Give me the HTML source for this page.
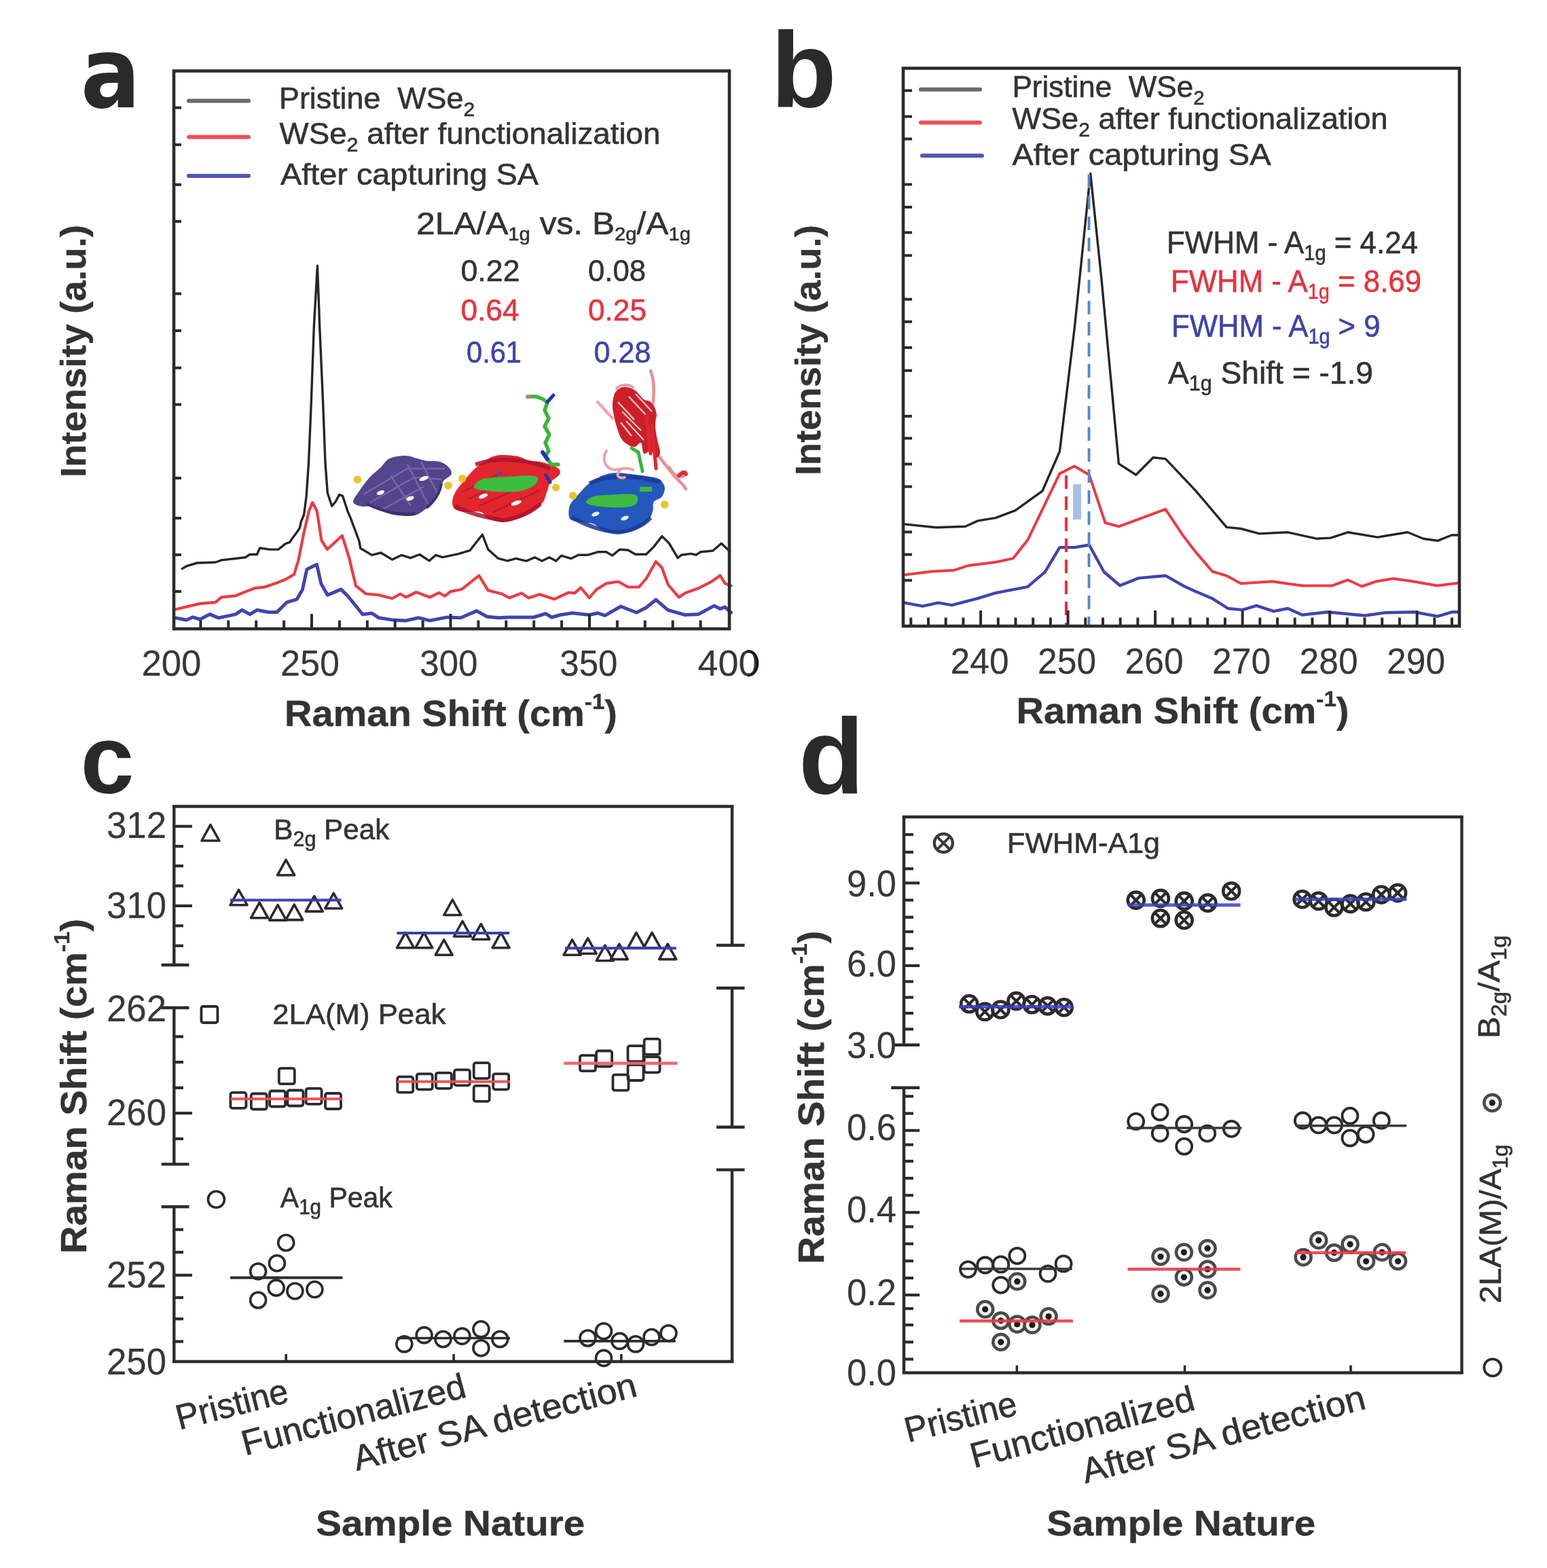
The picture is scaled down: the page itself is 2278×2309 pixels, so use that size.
<!DOCTYPE html>
<html><head><meta charset="utf-8"><title>Raman spectra of WSe2</title>
<style>
html,body{margin:0;padding:0;background:#ffffff;}
svg{display:block;}
text{font-family:"Liberation Sans",Arial,Helvetica,sans-serif;}
</style></head><body>
<svg width="2278" height="2309" viewBox="0 0 2278 2309">
<rect x="0" y="0" width="2278" height="2309" fill="#ffffff"/>

<g id="panel-a">
<text x="0" y="0" font-size="145" fill="#2a2a2a" text-anchor="start" font-weight="bold" style="font-family:&apos;DejaVu Sans&apos;,sans-serif" transform="translate(118.8,157.6) scale(0.9,1)">a</text>
<g id="molecules">
<path d="M520,739 C519.5,735.4 524.6,729.7 528.5,723.8 C532.4,717.9 538.3,709.6 543.6,703.7 C548.9,697.8 555.4,693.3 560.4,688.5 C565.4,683.7 567.6,678 573.8,675.1 C579.9,672.2 590.6,670.9 597.3,670.9 C604,670.9 609.1,673.8 614.1,675.1 C619.1,676.4 621.9,677.7 627.5,678.5 C633.1,679.3 642.1,678.4 647.7,680.1 C653.3,681.8 658.3,685.4 661.1,688.5 C663.9,691.6 665.9,695.2 664.5,698.6 C663.1,702 655.5,704.5 652.7,708.7 C649.9,712.9 649.9,718.8 647.7,723.8 C645.5,728.8 642.7,734.7 639.3,738.9 C635.9,743.1 632.3,745.6 627.5,749 C622.7,752.4 617.7,757.4 610.7,759.1 C603.7,760.8 593.2,760 585.6,759.1 C578,758.2 571,756.2 565.4,754 C559.8,751.8 557.6,747 552,745.6 C546.4,744.2 537.1,746.7 531.8,745.6 C526.5,744.5 520.5,742.6 520,739Z" fill="#54448c"/>
<g stroke="#7d70ad" stroke-width="2.5" fill="none" opacity="0.8">
<path d="M535,728 L600,690 L655,690 M545,740 L610,703 L650,706 M560,752 L625,716 M575,700 L605,745 M600,684 L630,742 M620,680 L645,728"/>
</g>
<path d="M540,742 C560,752 590,760 612,756 M628,748 C640,738 648,726 650,712" stroke="#3e3070" stroke-width="4" fill="none"/>
<ellipse cx="624.2" cy="704.5" rx="7" ry="3" fill="#ffffff" transform="rotate(-20 624.2 704.5)"/>
<ellipse cx="560.4" cy="725.5" rx="6" ry="3" fill="#ffffff" transform="rotate(-20 560.4 725.5)"/>
<ellipse cx="604" cy="733.9" rx="6" ry="3" fill="#ffffff" transform="rotate(-20 604 733.9)"/>
<circle cx="578" cy="697" r="3" fill="#2c5cc0"/>
<path d="M666.1,740.6 C666.1,736.1 667,730.8 671.2,723.8 C675.4,716.8 686,704.8 691.3,698.6 C696.6,692.5 698.3,690.8 703.1,686.9 C707.9,683 714.3,677.9 719.9,675.1 C725.5,672.3 729.7,670.7 736.7,670.1 C743.7,669.5 754.8,670.4 761.8,671.8 C768.8,673.2 773,677.1 778.6,678.5 C784.2,679.9 788.4,678.4 795.4,680.1 C802.4,681.8 815.8,685.4 820.6,688.5 C825.4,691.6 825.7,695 824,698.6 C822.3,702.2 813.6,706.2 810.5,710.4 C807.4,714.6 807.5,718.8 805.5,723.8 C803.5,728.8 802.7,735.6 798.8,740.6 C794.9,745.6 788.2,750.1 782,754 C775.8,757.9 768.5,761.6 761.8,764.1 C755.1,766.6 748.7,769.1 741.7,769.1 C734.7,769.1 725.5,766.6 719.9,764.1 C714.3,761.6 713.7,755.7 708.1,754 C702.5,752.3 692.4,754.5 686.3,754 C680.1,753.5 674.6,752.9 671.2,750.7 C667.8,748.5 666.1,745.1 666.1,740.6Z" fill="#e3262e"/>
<path d="M670,745 C690,756 715,762 740,766 C760,764 780,756 796,742 M700,684 C730,674 770,674 810,690" stroke="#a8142c" stroke-width="6" fill="none" opacity="0.85"/>
<g stroke="#b0142a" stroke-width="2.5" fill="none" opacity="0.7"><path d="M690,735 L760,700 M705,745 L780,712 M725,755 L795,722 M680,725 L740,695"/></g>
<path d="M698,715.4 C699.4,712.9 703.7,707.5 711.5,705.3 C719.3,703.1 733.8,702.8 745,702 C756.2,701.2 770.8,700 778.6,700.3 C786.4,700.6 790.9,701.2 792,703.7 C793.1,706.2 790.4,712 785.4,715.4 C780.4,718.8 771.3,722.4 761.8,723.8 C752.3,725.2 738.1,724.4 728.3,723.8 C718.5,723.2 708.1,721.8 703.1,720.4 C698.1,719 696.6,717.9 698,715.4Z" fill="#3dbb3f"/>
<ellipse cx="711.5" cy="730.5" rx="7" ry="3" fill="#ffffff" transform="rotate(-20 711.5 730.5)"/>
<ellipse cx="760.2" cy="740.6" rx="8" ry="3" fill="#ffffff" transform="rotate(-20 760.2 740.6)"/>
<circle cx="734" cy="697" r="3" fill="#2c5cc0"/>
<path d="M777,584 L790,584 L800,588 L806,593 L802,604 L808,616 L802,628 L809,640 L803,652 L808,664 L803,672 L812,684 L822,684" stroke="#3ab53a" stroke-width="5.5" fill="none" stroke-linecap="round" stroke-linejoin="round"/>
<path d="M806,592 L815,582" stroke="#2535b0" stroke-width="5" stroke-linecap="round"/>
<path d="M799,666 L806,676" stroke="#2535b0" stroke-width="6" stroke-linecap="round"/>
<path d="M804,700 L810,710" stroke="#2535b0" stroke-width="5" stroke-linecap="round"/>
<path d="M775,585 L781,584" stroke="#e07070" stroke-width="5"/>
<path d="M837.5,755.4 C837.5,751.6 837.5,746.8 840.2,741.9 C842.9,737 849.2,730.7 853.7,725.8 C858.2,720.9 861.5,716.6 867.1,712.3 C872.7,708 880.6,702.9 887.3,700.2 C894,697.5 899.6,696.4 907.5,696.2 C915.4,696 926.5,697.9 934.4,698.8 C942.2,699.7 948.5,700.4 954.6,701.5 C960.7,702.6 966.8,702.9 970.8,705.6 C974.8,708.3 978.1,713.4 978.8,717.7 C979.5,722 977.5,727.6 974.8,731.2 C972.1,734.8 965,735.6 962.7,739.2 C960.5,742.8 962.6,748.2 961.3,752.7 C959.9,757.2 958,762.2 954.6,766.2 C951.2,770.2 946.1,774 941.2,776.9 C936.3,779.8 931.3,782.4 925,783.7 C918.7,785.1 909.8,785.5 903.5,785 C897.2,784.5 892.2,783.2 887.3,781 C882.3,778.8 879.4,773.5 873.8,771.5 C868.2,769.5 859.3,769.9 853.7,768.8 C848.1,767.7 842.9,767 840.2,764.8 C837.5,762.6 837.5,759.2 837.5,755.4Z" fill="#2458bd"/>
<path d="M842,762 C860,772 885,782 910,784 C930,782 948,774 958,762 M868,712 C890,700 930,698 972,710" stroke="#1a3a98" stroke-width="6" fill="none" opacity="0.85"/>
<path d="M863.1,739.2 C863.1,737 867.5,733 873.8,731.2 C880.1,729.4 890.7,729 900.8,728.5 C910.9,728 928.1,726.7 934.4,728.5 C940.7,730.3 939.6,736.3 938.5,739.2 C937.4,742.1 934,744.6 927.7,746 C921.4,747.4 909.8,747.5 900.8,747.3 C891.8,747.1 880.1,746 873.8,744.6 C867.5,743.2 863.1,741.4 863.1,739.2Z" fill="#3dbb3f"/>
<rect x="942" y="717" width="18" height="7" fill="#3dbb3f"/>
<ellipse cx="877" cy="757" rx="6" ry="3" fill="#e6f2ff" transform="rotate(-20 877 757)"/>
<ellipse cx="920" cy="763" rx="6" ry="3" fill="#e6f2ff" transform="rotate(-20 920 763)"/>
<g stroke-linecap="round" stroke-linejoin="round" fill="none">
<path d="M880,592 C888,600 896,610 902,616 M893,664 C886,675 890,690 905,692 C915,690 925,688 932,692 M915,690 C905,700 910,705 920,703" stroke="#eba2a8" stroke-width="4"/>
<path d="M958,546 C962,556 964,570 962,590 C960,600 962,606 966,612 M968,668 C975,680 985,690 992,700 C996,706 1003,708 1010,720 M985,688 C992,700 1000,706 1008,700" stroke="#e98f97" stroke-width="4.5"/>
<path d="M1000,700 C1004,696 1008,694 1010,698" stroke="#d83038" stroke-width="6"/>
<path d="M908,572 C915,565 925,566 932,570" stroke="#e3a0a6" stroke-width="4"/>
</g>
<path d="M906,578 C908.7,573.7 913.3,570.7 918,570 C922.7,569.3 929,571 934,574 C939,577 944,585 948,588 C952,591 955,589 958,592 C961,595 964.8,600 966,606 C967.2,612 964.7,621 965,628 C965.3,635 966.8,641.7 968,648 C969.2,654.3 972.2,661.7 972,666 C971.8,670.3 969.3,674.3 967,674 C964.7,673.7 961.2,665 958,664 C954.8,663 950.3,670 948,668 C945.7,666 946.2,653.7 944,652 C941.8,650.3 938.2,657.5 935,658 C931.8,658.5 928.3,657 925,655 C921.7,653 917.8,650.5 915,646 C912.2,641.5 909.8,633.7 908,628 C906.2,622.3 905,617.3 904,612 C903,606.7 901.7,601.7 902,596 C902.3,590.3 903.3,582.3 906,578Z" fill="#cc2029"/>
<g stroke="#f6d4d6" stroke-width="2.4" fill="none" opacity="0.9">
<path d="M910,592 L934,618 M916,606 L944,634 M922,620 L948,648 M926,584 L952,612 M936,580 L960,606 M914,622 L930,642"/>
</g>
<path d="M930,660 L940,666 L946,694" stroke="#3ab53a" stroke-width="5" fill="none" stroke-linecap="round"/>
<path d="M952,612 L958,668 M960,626 L966,690" stroke="#d82a30" stroke-width="5" fill="none" stroke-linecap="round"/>
<circle cx="526.4" cy="706.3" r="5.8" fill="#e8c52e"/>
<circle cx="660" cy="715" r="5.8" fill="#e8c52e"/>
<circle cx="680.7" cy="704.8" r="5.8" fill="#e8c52e"/>
<circle cx="818.7" cy="718" r="5.8" fill="#e8c52e"/>
<circle cx="843.7" cy="729.8" r="5.8" fill="#e8c52e"/>
<circle cx="978.8" cy="743" r="5.8" fill="#e8c52e"/>
</g>
<path d="M258.8,909.9 L274.5,913 L284,908.8 L294.4,912 L309.1,904.6 L321.7,909.9 L346.9,904.6 L356.3,898.3 L367.9,904.6 L378.4,898.3 L395.2,901.5 L407.8,901.5 L422.5,886.8 L437.1,882.6 L445.5,867.9 L451.8,838.5 L460.2,834.3 L466.5,831.2 L472.8,859.5 L482.3,876.3 L502.2,867.9 L512.2,877.8 L534,904.7 L547.5,903 L557.5,909.7 L579.4,913.1 L597.8,913.9 L616.3,909.7 L633,913.9 L658.3,908.9 L678.4,909.7 L701.9,899.6 L717,908 L733.8,909.7 L750,909 L785.7,909 L803.5,903.7 L812.4,909 L824.9,905.5 L842.8,902.8 L867.7,905.5 L880.2,902.8 L890.9,906.4 L914.1,893 L937.3,902 L951.6,894.8 L965.8,883.2 L983.7,898.4 L1008.7,905.5 L1028.3,904.6 L1051.5,892.1 L1060.4,896.6 L1067.5,893.9 L1076.4,902" fill="none" stroke="#4045ad" stroke-width="5.0" stroke-linejoin="round" stroke-linecap="round" />
<path d="M258.8,897.3 L294.4,888.9 L317.5,886.8 L326,879.4 L346.9,877.3 L359.5,872.1 L376.3,865.8 L388.9,864.7 L409.9,857.4 L420.4,853.2 L433,845.9 L439.2,825.9 L447.6,784 L455,752.5 L460.1,740.1 L466.7,752.6 L473.5,796 L482,809 L503.8,788.8 L513.9,820.7 L524,862.7 L539,874.5 L557.5,876.1 L577.7,881.2 L589.4,874.5 L597.8,879.5 L612.9,872 L633,879.5 L646.5,872.8 L654.9,877.8 L663.3,871.1 L680.1,867.7 L705.3,847.6 L718.7,869.4 L738.9,874.5 L750,880.5 L767.8,873.4 L778.5,880.5 L794.6,875.2 L816,882.3 L837.4,872.5 L846.3,873.4 L855.2,865.4 L867.7,880.5 L878.4,868 L892.7,859.1 L910.5,856.5 L924.8,864.5 L940.9,864.5 L951.6,852 L965.8,827 L974.8,836 L983.7,860.9 L999.7,879.6 L1008.7,873.4 L1028.3,866.3 L1046.1,857.4 L1060.4,847.5 L1067.5,859.1 L1076.4,862.7" fill="none" stroke="#ec3b44" stroke-width="4.2" stroke-linejoin="round" stroke-linecap="round" />
<path d="M268.2,837.5 L275.5,833.3 L290.2,829 L317.5,828 L326,824.9 L361.6,820.7 L367.9,816.5 L378.4,816.5 L382.6,807 L397.3,809.1 L409.9,809.1 L420.4,800.7 L426.6,798.6 L430.8,792.3 L437,784 L441.3,777.6 L443.4,768 L447.6,758 L451.2,730.4 L454.5,681.5 L458.3,592.5 L462.3,481.2 L467.4,391.1 L470.7,481.2 L475.6,592.5 L479,681.5 L482.3,726 L488.7,745.2 L494,739 L499.6,728.4 L504.6,730.4 L512.2,753.6 L515.7,761.5 L529,797.1 L530.7,807.3 L547.5,817.4 L560.9,814 L577.7,824.1 L591.1,817.4 L604.5,821.6 L618,816.5 L632.2,825.8 L641.5,817.4 L651.6,820.7 L675,815.7 L691.8,810.7 L710.3,787.2 L718.7,809 L733.8,822.4 L747.3,825.8 L760,822.4 L775,826.1 L787.5,820.8 L798.2,826.1 L808.9,820.8 L818.7,826.1 L826.7,818.1 L841,822.6 L851.7,817.2 L866,817.2 L880.2,812.8 L892.7,812.8 L901.6,818.1 L912.3,809.2 L924.8,810 L935.5,816.3 L951.6,816.3 L962.3,805.6 L974.8,789.6 L985.5,800.3 L998,821.7 L1003.3,817.2 L1017.6,815.4 L1024.7,817.2 L1031.8,812.8 L1049.7,811 L1062.2,800.3 L1074.7,811.9" fill="none" stroke="#262626" stroke-width="3.4" stroke-linejoin="round" stroke-linecap="round" />
<rect x="256" y="104.5" width="818" height="821.5" fill="none" stroke="#2b2b2b" stroke-width="4.6"/>
<line x1="256" y1="158.6" x2="267" y2="158.6" stroke="#2b2b2b" stroke-width="4" />
<line x1="256" y1="213.2" x2="267" y2="213.2" stroke="#2b2b2b" stroke-width="4" />
<line x1="256" y1="272" x2="267" y2="272" stroke="#2b2b2b" stroke-width="4" />
<line x1="256" y1="326" x2="267" y2="326" stroke="#2b2b2b" stroke-width="4" />
<line x1="256" y1="432.5" x2="267" y2="432.5" stroke="#2b2b2b" stroke-width="4" />
<line x1="256" y1="487" x2="267" y2="487" stroke="#2b2b2b" stroke-width="4" />
<line x1="256" y1="541.7" x2="267" y2="541.7" stroke="#2b2b2b" stroke-width="4" />
<line x1="256" y1="595.7" x2="267" y2="595.7" stroke="#2b2b2b" stroke-width="4" />
<line x1="256" y1="704" x2="267" y2="704" stroke="#2b2b2b" stroke-width="4" />
<line x1="256" y1="763" x2="267" y2="763" stroke="#2b2b2b" stroke-width="4" />
<line x1="256" y1="817" x2="267" y2="817" stroke="#2b2b2b" stroke-width="4" />
<line x1="256" y1="871" x2="267" y2="871" stroke="#2b2b2b" stroke-width="4" />
<line x1="295.4" y1="926" x2="295.4" y2="913.5" stroke="#2b2b2b" stroke-width="4" />
<line x1="336.3" y1="926" x2="336.3" y2="913.5" stroke="#2b2b2b" stroke-width="4" />
<line x1="377.2" y1="926" x2="377.2" y2="913.5" stroke="#2b2b2b" stroke-width="4" />
<line x1="418.1" y1="926" x2="418.1" y2="913.5" stroke="#2b2b2b" stroke-width="4" />
<line x1="459" y1="926" x2="459" y2="904" stroke="#2b2b2b" stroke-width="4" />
<line x1="499.9" y1="926" x2="499.9" y2="913.5" stroke="#2b2b2b" stroke-width="4" />
<line x1="540.8" y1="926" x2="540.8" y2="913.5" stroke="#2b2b2b" stroke-width="4" />
<line x1="581.7" y1="926" x2="581.7" y2="913.5" stroke="#2b2b2b" stroke-width="4" />
<line x1="622.6" y1="926" x2="622.6" y2="913.5" stroke="#2b2b2b" stroke-width="4" />
<line x1="663.5" y1="926" x2="663.5" y2="904" stroke="#2b2b2b" stroke-width="4" />
<line x1="704.4" y1="926" x2="704.4" y2="913.5" stroke="#2b2b2b" stroke-width="4" />
<line x1="745.3" y1="926" x2="745.3" y2="913.5" stroke="#2b2b2b" stroke-width="4" />
<line x1="786.2" y1="926" x2="786.2" y2="913.5" stroke="#2b2b2b" stroke-width="4" />
<line x1="827.1" y1="926" x2="827.1" y2="913.5" stroke="#2b2b2b" stroke-width="4" />
<line x1="868" y1="926" x2="868" y2="904" stroke="#2b2b2b" stroke-width="4" />
<line x1="908.9" y1="926" x2="908.9" y2="913.5" stroke="#2b2b2b" stroke-width="4" />
<line x1="949.8" y1="926" x2="949.8" y2="913.5" stroke="#2b2b2b" stroke-width="4" />
<line x1="990.7" y1="926" x2="990.7" y2="913.5" stroke="#2b2b2b" stroke-width="4" />
<line x1="1031.6" y1="926" x2="1031.6" y2="913.5" stroke="#2b2b2b" stroke-width="4" />
<line x1="278" y1="148.6" x2="366" y2="148.6" stroke="#6a6a6a" stroke-width="6" stroke-linecap="round"/>
<line x1="278" y1="201.7" x2="366" y2="201.7" stroke="#ee4f57" stroke-width="6" stroke-linecap="round"/>
<line x1="278" y1="259" x2="366" y2="259" stroke="#5257b0" stroke-width="6" stroke-linecap="round"/>
<text x="411" y="160.2" font-size="45" fill="#333333" stroke="#333333" stroke-width="0.6" text-anchor="start" textLength="288" lengthAdjust="spacingAndGlyphs" >Pristine&#160;&#160;WSe<tspan font-size="30" dy="11">2</tspan></text>
<text x="411.5" y="212.2" font-size="45" fill="#333333" stroke="#333333" stroke-width="0.6" text-anchor="start" textLength="561" lengthAdjust="spacingAndGlyphs" >WSe<tspan font-size="30" dy="11">2</tspan><tspan dy="-11"> after functionalization</tspan></text>
<text x="413" y="272.4" font-size="45" fill="#333333" stroke="#333333" stroke-width="0.6" text-anchor="start" textLength="380" lengthAdjust="spacingAndGlyphs" >After capturing SA</text>
<text x="613" y="344.8" font-size="46" fill="#333333" stroke="#333333" stroke-width="0.6" text-anchor="start" textLength="404" lengthAdjust="spacingAndGlyphs" >2LA/A<tspan font-size="27" dy="9">1g</tspan><tspan dy="-9"> vs. B</tspan><tspan font-size="27" dy="9">2g</tspan><tspan dy="-9">/A</tspan><tspan font-size="27" dy="9">1g</tspan></text>
<text x="678.5" y="414" font-size="44" fill="#333333" stroke="#333333" stroke-width="0.6" text-anchor="start" textLength="87" lengthAdjust="spacingAndGlyphs" >0.22</text>
<text x="866" y="414" font-size="44" fill="#333333" stroke="#333333" stroke-width="0.6" text-anchor="start" textLength="85" lengthAdjust="spacingAndGlyphs" >0.08</text>
<text x="678.5" y="471.8" font-size="44" fill="#e8333c" stroke="#e8333c" stroke-width="0.6" text-anchor="start" textLength="86" lengthAdjust="spacingAndGlyphs" >0.64</text>
<text x="866" y="471.8" font-size="44" fill="#e8333c" stroke="#e8333c" stroke-width="0.6" text-anchor="start" textLength="86" lengthAdjust="spacingAndGlyphs" >0.25</text>
<text x="687" y="534.3" font-size="44" fill="#3d44a8" stroke="#3d44a8" stroke-width="0.6" text-anchor="start" textLength="81" lengthAdjust="spacingAndGlyphs" >0.61</text>
<text x="874.5" y="534.3" font-size="44" fill="#3d44a8" stroke="#3d44a8" stroke-width="0.6" text-anchor="start" textLength="84" lengthAdjust="spacingAndGlyphs" >0.28</text>
<text x="208.4" y="995" font-size="54" fill="#383838" stroke="#383838" stroke-width="0.2" text-anchor="start" textLength="88.1" lengthAdjust="spacingAndGlyphs" >200</text>
<text x="413" y="995" font-size="54" fill="#383838" stroke="#383838" stroke-width="0.2" text-anchor="start" textLength="87" lengthAdjust="spacingAndGlyphs" >250</text>
<text x="618" y="995" font-size="54" fill="#383838" stroke="#383838" stroke-width="0.2" text-anchor="start" textLength="85.6" lengthAdjust="spacingAndGlyphs" >300</text>
<text x="824.3" y="995" font-size="54" fill="#383838" stroke="#383838" stroke-width="0.2" text-anchor="start" textLength="85.2" lengthAdjust="spacingAndGlyphs" >350</text>
<text x="1027.5" y="995" font-size="54" fill="#383838" stroke="#383838" stroke-width="0.2" text-anchor="start" textLength="90" lengthAdjust="spacingAndGlyphs" >400</text>
<path d="M1100.5,958.5 C1110,959 1115.5,966 1115.5,976.5 C1115.5,987 1110,994.5 1100.5,995" fill="none" stroke="#151515" stroke-width="3.4"/>
<text x="419" y="1068.6" font-size="54" fill="#333333" stroke="#333333" stroke-width="0.4" text-anchor="start" font-weight="bold" textLength="490" lengthAdjust="spacingAndGlyphs" >Raman Shift (cm<tspan font-size="32" dy="-25">-1</tspan><tspan dy="25">)</tspan></text>
<text x="0" y="0" font-size="51" fill="#333333" stroke="#333333" stroke-width="0.4" text-anchor="start" font-weight="bold" textLength="372" lengthAdjust="spacingAndGlyphs" transform="translate(125.5,703) rotate(-90)">Intensity (a.u.)</text>
</g>
<g id="panel-b">
<text x="1135.2" y="156.6" font-size="158" fill="#2a2a2a" text-anchor="start" font-weight="bold" >b</text>
<path d="M1332,887.7 L1358.5,892.7 L1381.7,887.7 L1401.6,891.1 L1440,881.1 L1466.2,873.1 L1513.3,864.1 L1538.7,842.3 L1560.4,806.1 L1582.2,806.1 L1603.9,802.5 L1625.7,842.3 L1649.2,862.2 L1676.4,851.4 L1716.2,847.7 L1745.2,864.1 L1760,870.8 L1785.2,881.3 L1808.3,896 L1829.3,898.1 L1850.2,891.8 L1875.4,900.2 L1896.4,896 L1917.4,905.5 L1955.2,901.3 L2009.7,906.5 L2039.1,902.3 L2083.2,901.3 L2116.8,907.6 L2137.8,901.3 L2149,901.3" fill="none" stroke="#4045ad" stroke-width="4.4" stroke-linejoin="round" stroke-linecap="round" />
<path d="M1332,846.4 L1371.8,841.4 L1405,839.7 L1424.8,833.1 L1466.2,827.8 L1491.6,822.4 L1513.3,795.2 L1560.4,697.4 L1582.2,686.5 L1603.9,699.2 L1627.5,769.9 L1647.4,775.3 L1716.2,749.9 L1741.6,788 L1760,812.1 L1785.2,841.5 L1806.2,847.8 L1827.2,859.3 L1873.3,856.2 L1917.4,862.5 L1961.5,862.5 L1984.6,854 L2005.5,863.5 L2026.5,856.2 L2051.7,852 L2081.1,856.2 L2116.8,862.5 L2149,858.3" fill="none" stroke="#ec3b44" stroke-width="4.0" stroke-linejoin="round" stroke-linecap="round" />
<path d="M1332,771.9 L1378.4,776.8 L1421.5,775.2 L1440,766.9 L1466.2,762.6 L1495.2,751.7 L1535.1,722.8 L1560.4,664.8 L1582.2,483.6 L1605.7,255.4 L1622,411.2 L1647.4,682.9 L1672.8,699.2 L1698.1,673.8 L1716.2,675.6 L1760,721.8 L1806.2,776.4 L1827.2,778.5 L1854.4,785.9 L1896.4,783.8 L1938.4,793.2 L1959.4,792.1 L1984.6,783.8 L2028.6,791.1 L2072.7,783.8 L2095.8,793.2 L2116.8,796.3 L2137.8,788 L2149,788" fill="none" stroke="#262626" stroke-width="3.4" stroke-linejoin="round" stroke-linecap="round" />
<rect x="1580" y="713" width="12" height="52" fill="#9fb9e2" opacity="0.9"/>
<line x1="1570" y1="700" x2="1570" y2="920" stroke="#e8333c" stroke-width="4.2" stroke-dasharray="20 11"/>
<line x1="1603.5" y1="257" x2="1603.5" y2="920" stroke="#4f86d6" stroke-width="3.8" stroke-dasharray="20 11"/>
<rect x="1330" y="100.5" width="819" height="821.5" fill="none" stroke="#2b2b2b" stroke-width="4.6"/>
<line x1="1330" y1="133.4" x2="1343" y2="133.4" stroke="#2b2b2b" stroke-width="4" />
<line x1="1330" y1="171.6" x2="1343" y2="171.6" stroke="#2b2b2b" stroke-width="4" />
<line x1="1330" y1="204.6" x2="1343" y2="204.6" stroke="#2b2b2b" stroke-width="4" />
<line x1="1330" y1="271.6" x2="1343" y2="271.6" stroke="#2b2b2b" stroke-width="4" />
<line x1="1330" y1="305" x2="1343" y2="305" stroke="#2b2b2b" stroke-width="4" />
<line x1="1330" y1="342.4" x2="1343" y2="342.4" stroke="#2b2b2b" stroke-width="4" />
<line x1="1330" y1="376.2" x2="1343" y2="376.2" stroke="#2b2b2b" stroke-width="4" />
<line x1="1330" y1="440.7" x2="1343" y2="440.7" stroke="#2b2b2b" stroke-width="4" />
<line x1="1330" y1="473.8" x2="1343" y2="473.8" stroke="#2b2b2b" stroke-width="4" />
<line x1="1330" y1="511.9" x2="1343" y2="511.9" stroke="#2b2b2b" stroke-width="4" />
<line x1="1330" y1="545.7" x2="1343" y2="545.7" stroke="#2b2b2b" stroke-width="4" />
<line x1="1330" y1="612.9" x2="1343" y2="612.9" stroke="#2b2b2b" stroke-width="4" />
<line x1="1330" y1="645.4" x2="1343" y2="645.4" stroke="#2b2b2b" stroke-width="4" />
<line x1="1330" y1="683.4" x2="1343" y2="683.4" stroke="#2b2b2b" stroke-width="4" />
<line x1="1330" y1="716.6" x2="1343" y2="716.6" stroke="#2b2b2b" stroke-width="4" />
<line x1="1330" y1="783.4" x2="1343" y2="783.4" stroke="#2b2b2b" stroke-width="4" />
<line x1="1330" y1="816.6" x2="1343" y2="816.6" stroke="#2b2b2b" stroke-width="4" />
<line x1="1330" y1="854.6" x2="1343" y2="854.6" stroke="#2b2b2b" stroke-width="4" />
<line x1="1341.3" y1="922" x2="1341.3" y2="909.5" stroke="#2b2b2b" stroke-width="4" />
<line x1="1367" y1="922" x2="1367" y2="909.5" stroke="#2b2b2b" stroke-width="4" />
<line x1="1392.7" y1="922" x2="1392.7" y2="909.5" stroke="#2b2b2b" stroke-width="4" />
<line x1="1418.4" y1="922" x2="1418.4" y2="909.5" stroke="#2b2b2b" stroke-width="4" />
<line x1="1444.1" y1="922" x2="1444.1" y2="899" stroke="#2b2b2b" stroke-width="4" />
<line x1="1469.8" y1="922" x2="1469.8" y2="909.5" stroke="#2b2b2b" stroke-width="4" />
<line x1="1495.5" y1="922" x2="1495.5" y2="909.5" stroke="#2b2b2b" stroke-width="4" />
<line x1="1521.2" y1="922" x2="1521.2" y2="909.5" stroke="#2b2b2b" stroke-width="4" />
<line x1="1546.9" y1="922" x2="1546.9" y2="909.5" stroke="#2b2b2b" stroke-width="4" />
<line x1="1572.6" y1="922" x2="1572.6" y2="899" stroke="#2b2b2b" stroke-width="4" />
<line x1="1598.3" y1="922" x2="1598.3" y2="909.5" stroke="#2b2b2b" stroke-width="4" />
<line x1="1624" y1="922" x2="1624" y2="909.5" stroke="#2b2b2b" stroke-width="4" />
<line x1="1649.7" y1="922" x2="1649.7" y2="909.5" stroke="#2b2b2b" stroke-width="4" />
<line x1="1675.4" y1="922" x2="1675.4" y2="909.5" stroke="#2b2b2b" stroke-width="4" />
<line x1="1701.1" y1="922" x2="1701.1" y2="899" stroke="#2b2b2b" stroke-width="4" />
<line x1="1726.8" y1="922" x2="1726.8" y2="909.5" stroke="#2b2b2b" stroke-width="4" />
<line x1="1752.5" y1="922" x2="1752.5" y2="909.5" stroke="#2b2b2b" stroke-width="4" />
<line x1="1778.2" y1="922" x2="1778.2" y2="909.5" stroke="#2b2b2b" stroke-width="4" />
<line x1="1803.9" y1="922" x2="1803.9" y2="909.5" stroke="#2b2b2b" stroke-width="4" />
<line x1="1829.6" y1="922" x2="1829.6" y2="899" stroke="#2b2b2b" stroke-width="4" />
<line x1="1855.3" y1="922" x2="1855.3" y2="909.5" stroke="#2b2b2b" stroke-width="4" />
<line x1="1881" y1="922" x2="1881" y2="909.5" stroke="#2b2b2b" stroke-width="4" />
<line x1="1906.7" y1="922" x2="1906.7" y2="909.5" stroke="#2b2b2b" stroke-width="4" />
<line x1="1932.4" y1="922" x2="1932.4" y2="909.5" stroke="#2b2b2b" stroke-width="4" />
<line x1="1958.1" y1="922" x2="1958.1" y2="899" stroke="#2b2b2b" stroke-width="4" />
<line x1="1983.8" y1="922" x2="1983.8" y2="909.5" stroke="#2b2b2b" stroke-width="4" />
<line x1="2009.5" y1="922" x2="2009.5" y2="909.5" stroke="#2b2b2b" stroke-width="4" />
<line x1="2035.2" y1="922" x2="2035.2" y2="909.5" stroke="#2b2b2b" stroke-width="4" />
<line x1="2060.9" y1="922" x2="2060.9" y2="909.5" stroke="#2b2b2b" stroke-width="4" />
<line x1="2086.6" y1="922" x2="2086.6" y2="899" stroke="#2b2b2b" stroke-width="4" />
<line x1="2112.3" y1="922" x2="2112.3" y2="909.5" stroke="#2b2b2b" stroke-width="4" />
<line x1="2138" y1="922" x2="2138" y2="909.5" stroke="#2b2b2b" stroke-width="4" />
<line x1="1356" y1="131.8" x2="1443" y2="131.8" stroke="#6a6a6a" stroke-width="6" stroke-linecap="round"/>
<line x1="1356" y1="180.4" x2="1443" y2="180.4" stroke="#ee4f57" stroke-width="6" stroke-linecap="round"/>
<line x1="1358" y1="229.3" x2="1446" y2="229.3" stroke="#5257b0" stroke-width="6" stroke-linecap="round"/>
<text x="1490.5" y="142.9" font-size="45" fill="#333333" stroke="#333333" stroke-width="0.6" text-anchor="start" textLength="283" lengthAdjust="spacingAndGlyphs" >Pristine&#160;&#160;WSe<tspan font-size="30" dy="11">2</tspan></text>
<text x="1490.5" y="190.1" font-size="45" fill="#333333" stroke="#333333" stroke-width="0.6" text-anchor="start" textLength="553" lengthAdjust="spacingAndGlyphs" >WSe<tspan font-size="30" dy="11">2</tspan><tspan dy="-11"> after functionalization</tspan></text>
<text x="1490.5" y="243" font-size="45" fill="#333333" stroke="#333333" stroke-width="0.6" text-anchor="start" textLength="381" lengthAdjust="spacingAndGlyphs" >After capturing SA</text>
<text x="1718" y="372.9" font-size="47" fill="#333333" stroke="#333333" stroke-width="0.6" text-anchor="start" textLength="370" lengthAdjust="spacingAndGlyphs" >FWHM - A<tspan font-size="31" dy="10">1g</tspan><tspan dy="-10"> = 4.24</tspan></text>
<text x="1724" y="430.2" font-size="47" fill="#e8333c" stroke="#e8333c" stroke-width="0.6" text-anchor="start" textLength="369" lengthAdjust="spacingAndGlyphs" >FWHM - A<tspan font-size="31" dy="10">1g</tspan><tspan dy="-10"> = 8.69</tspan></text>
<text x="1725" y="496.3" font-size="47" fill="#3d44a8" stroke="#3d44a8" stroke-width="0.6" text-anchor="start" textLength="307.5" lengthAdjust="spacingAndGlyphs" >FWHM - A<tspan font-size="31" dy="10">1g</tspan><tspan dy="-10"> &gt; 9</tspan></text>
<text x="1720" y="564.6" font-size="47" fill="#333333" stroke="#333333" stroke-width="0.6" text-anchor="start" textLength="302" lengthAdjust="spacingAndGlyphs" >A<tspan font-size="31" dy="10">1g</tspan><tspan dy="-10"> Shift = -1.9</tspan></text>
<text x="1442.6" y="992" font-size="54" fill="#383838" stroke="#383838" stroke-width="0.2" text-anchor="middle" textLength="86" lengthAdjust="spacingAndGlyphs" >240</text>
<text x="1571.1" y="992" font-size="54" fill="#383838" stroke="#383838" stroke-width="0.2" text-anchor="middle" textLength="86" lengthAdjust="spacingAndGlyphs" >250</text>
<text x="1699.6" y="992" font-size="54" fill="#383838" stroke="#383838" stroke-width="0.2" text-anchor="middle" textLength="86" lengthAdjust="spacingAndGlyphs" >260</text>
<text x="1828.1" y="992" font-size="54" fill="#383838" stroke="#383838" stroke-width="0.2" text-anchor="middle" textLength="86" lengthAdjust="spacingAndGlyphs" >270</text>
<text x="1956.6" y="992" font-size="54" fill="#383838" stroke="#383838" stroke-width="0.2" text-anchor="middle" textLength="86" lengthAdjust="spacingAndGlyphs" >280</text>
<text x="2085.1" y="992" font-size="54" fill="#383838" stroke="#383838" stroke-width="0.2" text-anchor="middle" textLength="86" lengthAdjust="spacingAndGlyphs" >290</text>
<text x="1496.5" y="1064.8" font-size="54" fill="#333333" stroke="#333333" stroke-width="0.4" text-anchor="start" font-weight="bold" textLength="490" lengthAdjust="spacingAndGlyphs" >Raman Shift (cm<tspan font-size="32" dy="-25">-1</tspan><tspan dy="25">)</tspan></text>
<text x="0" y="0" font-size="51" fill="#333333" stroke="#333333" stroke-width="0.4" text-anchor="start" font-weight="bold" textLength="369" lengthAdjust="spacingAndGlyphs" transform="translate(1208,700.2) rotate(-90)">Intensity (a.u.)</text>
</g>
<g id="panel-c">
<text x="118.4" y="1168.1" font-size="142" fill="#2a2a2a" text-anchor="start" font-weight="bold" >c</text>
<line x1="254" y1="1187.5" x2="1080.3" y2="1187.5" stroke="#2b2b2b" stroke-width="4.4" />
<line x1="254" y1="2005" x2="1080.3" y2="2005" stroke="#2b2b2b" stroke-width="4.4" />
<line x1="256.3" y1="1187.5" x2="256.3" y2="1421" stroke="#2b2b2b" stroke-width="4.4" />
<line x1="256.3" y1="1484" x2="256.3" y2="1714.4" stroke="#2b2b2b" stroke-width="4.4" />
<line x1="256.3" y1="1777" x2="256.3" y2="2005" stroke="#2b2b2b" stroke-width="4.4" />
<line x1="237.6" y1="1421" x2="278.5" y2="1421" stroke="#2b2b2b" stroke-width="4.4" />
<line x1="237.6" y1="1484" x2="278.5" y2="1484" stroke="#2b2b2b" stroke-width="4.4" />
<line x1="237.6" y1="1714.4" x2="278.5" y2="1714.4" stroke="#2b2b2b" stroke-width="4.4" />
<line x1="237.6" y1="1777" x2="278.5" y2="1777" stroke="#2b2b2b" stroke-width="4.4" />
<line x1="1078" y1="1187.5" x2="1078" y2="1392" stroke="#2b2b2b" stroke-width="4.4" />
<line x1="1078" y1="1455" x2="1078" y2="1659.7" stroke="#2b2b2b" stroke-width="4.4" />
<line x1="1078" y1="1722.6" x2="1078" y2="2005" stroke="#2b2b2b" stroke-width="4.4" />
<line x1="1055" y1="1392" x2="1096.5" y2="1392" stroke="#2b2b2b" stroke-width="4.4" />
<line x1="1055" y1="1455" x2="1096.5" y2="1455" stroke="#2b2b2b" stroke-width="4.4" />
<line x1="1055" y1="1659.7" x2="1096.5" y2="1659.7" stroke="#2b2b2b" stroke-width="4.4" />
<line x1="1055" y1="1722.6" x2="1096.5" y2="1722.6" stroke="#2b2b2b" stroke-width="4.4" />
<line x1="256.3" y1="1216.8" x2="283" y2="1216.8" stroke="#2b2b2b" stroke-width="4.2" />
<line x1="256.3" y1="1333.9" x2="283" y2="1333.9" stroke="#2b2b2b" stroke-width="4.2" />
<line x1="256.3" y1="1639.2" x2="283" y2="1639.2" stroke="#2b2b2b" stroke-width="4.2" />
<line x1="256.3" y1="1877.8" x2="283" y2="1877.8" stroke="#2b2b2b" stroke-width="4.2" />
<line x1="256.3" y1="1246.2" x2="270" y2="1246.2" stroke="#2b2b2b" stroke-width="4.2" />
<line x1="256.3" y1="1275.2" x2="270" y2="1275.2" stroke="#2b2b2b" stroke-width="4.2" />
<line x1="256.3" y1="1304.5" x2="270" y2="1304.5" stroke="#2b2b2b" stroke-width="4.2" />
<line x1="256.3" y1="1363.3" x2="270" y2="1363.3" stroke="#2b2b2b" stroke-width="4.2" />
<line x1="256.3" y1="1392.7" x2="270" y2="1392.7" stroke="#2b2b2b" stroke-width="4.2" />
<line x1="256.3" y1="1526.5" x2="270" y2="1526.5" stroke="#2b2b2b" stroke-width="4.2" />
<line x1="256.3" y1="1564.1" x2="270" y2="1564.1" stroke="#2b2b2b" stroke-width="4.2" />
<line x1="256.3" y1="1601.9" x2="270" y2="1601.9" stroke="#2b2b2b" stroke-width="4.2" />
<line x1="256.3" y1="1677" x2="270" y2="1677" stroke="#2b2b2b" stroke-width="4.2" />
<line x1="256.3" y1="1810.7" x2="270" y2="1810.7" stroke="#2b2b2b" stroke-width="4.2" />
<line x1="256.3" y1="1844" x2="270" y2="1844" stroke="#2b2b2b" stroke-width="4.2" />
<line x1="256.3" y1="1910.8" x2="270" y2="1910.8" stroke="#2b2b2b" stroke-width="4.2" />
<line x1="256.3" y1="1942.2" x2="270" y2="1942.2" stroke="#2b2b2b" stroke-width="4.2" />
<line x1="256.3" y1="1975.5" x2="270" y2="1975.5" stroke="#2b2b2b" stroke-width="4.2" />
<line x1="421.2" y1="2005" x2="421.2" y2="1994" stroke="#2b2b2b" stroke-width="3.6" />
<line x1="668.1" y1="2005" x2="668.1" y2="1994" stroke="#2b2b2b" stroke-width="3.6" />
<line x1="914.9" y1="2005" x2="914.9" y2="1994" stroke="#2b2b2b" stroke-width="3.6" />
<text x="245" y="1234.2" font-size="55" fill="#383838" stroke="#383838" stroke-width="0.2" text-anchor="end" textLength="88" lengthAdjust="spacingAndGlyphs" >312</text>
<text x="245" y="1351.8" font-size="55" fill="#383838" stroke="#383838" stroke-width="0.2" text-anchor="end" textLength="88" lengthAdjust="spacingAndGlyphs" >310</text>
<text x="245" y="1503.9" font-size="55" fill="#383838" stroke="#383838" stroke-width="0.2" text-anchor="end" textLength="88" lengthAdjust="spacingAndGlyphs" >262</text>
<text x="245" y="1657.1" font-size="55" fill="#383838" stroke="#383838" stroke-width="0.2" text-anchor="end" textLength="88" lengthAdjust="spacingAndGlyphs" >260</text>
<text x="245" y="1896.4" font-size="55" fill="#383838" stroke="#383838" stroke-width="0.2" text-anchor="end" textLength="88" lengthAdjust="spacingAndGlyphs" >252</text>
<text x="245" y="2024.3" font-size="55" fill="#383838" stroke="#383838" stroke-width="0.2" text-anchor="end" textLength="88" lengthAdjust="spacingAndGlyphs" >250</text>
<path d="M309.9,1214.6 L322.9,1238 L296.9,1238Z" fill="none" stroke="#2b2b2b" stroke-width="3.6" stroke-linejoin="round"/>
<text x="403.3" y="1236.3" font-size="43" fill="#333333" stroke="#333333" stroke-width="0.6" text-anchor="start" textLength="170" lengthAdjust="spacingAndGlyphs" >B<tspan font-size="31" dy="10">2g</tspan><tspan dy="-10"> Peak</tspan></text>
<rect x="296.4" y="1482" width="24" height="24" rx="3" fill="none" stroke="#2b2b2b" stroke-width="3.8"/>
<text x="401.3" y="1508.1" font-size="43" fill="#333333" stroke="#333333" stroke-width="0.6" text-anchor="start" textLength="255" lengthAdjust="spacingAndGlyphs" >2LA(M) Peak</text>
<circle cx="318.4" cy="1766.2" r="12" fill="none" stroke="#2b2b2b" stroke-width="3.6"/>
<text x="412.8" y="1777.7" font-size="43" fill="#333333" stroke="#333333" stroke-width="0.6" text-anchor="start" textLength="165" lengthAdjust="spacingAndGlyphs" >A<tspan font-size="31" dy="10">1g</tspan><tspan dy="-10"> Peak</tspan></text>
<path d="M421.1,1266.2 L433.6,1288.7 L408.6,1288.7Z" fill="none" stroke="#2b2b2b" stroke-width="3.6" stroke-linejoin="round"/>
<path d="M351.5,1310.3 L364,1332.8 L339,1332.8Z" fill="none" stroke="#2b2b2b" stroke-width="3.6" stroke-linejoin="round"/>
<path d="M382.1,1329.2 L394.6,1351.7 L369.6,1351.7Z" fill="none" stroke="#2b2b2b" stroke-width="3.6" stroke-linejoin="round"/>
<path d="M409,1332.6 L421.5,1355.1 L396.5,1355.1Z" fill="none" stroke="#2b2b2b" stroke-width="3.6" stroke-linejoin="round"/>
<path d="M433.3,1332.1 L445.8,1354.6 L420.8,1354.6Z" fill="none" stroke="#2b2b2b" stroke-width="3.6" stroke-linejoin="round"/>
<path d="M462.7,1319.6 L475.2,1342.1 L450.2,1342.1Z" fill="none" stroke="#2b2b2b" stroke-width="3.6" stroke-linejoin="round"/>
<path d="M491.2,1315.3 L503.7,1337.8 L478.7,1337.8Z" fill="none" stroke="#2b2b2b" stroke-width="3.6" stroke-linejoin="round"/>
<path d="M597,1373.3 L609.5,1395.8 L584.5,1395.8Z" fill="none" stroke="#2b2b2b" stroke-width="3.6" stroke-linejoin="round"/>
<path d="M624.3,1373.3 L636.8,1395.8 L611.8,1395.8Z" fill="none" stroke="#2b2b2b" stroke-width="3.6" stroke-linejoin="round"/>
<path d="M653.7,1383.8 L666.2,1406.3 L641.2,1406.3Z" fill="none" stroke="#2b2b2b" stroke-width="3.6" stroke-linejoin="round"/>
<path d="M666.3,1325 L678.8,1347.5 L653.8,1347.5Z" fill="none" stroke="#2b2b2b" stroke-width="3.6" stroke-linejoin="round"/>
<path d="M681,1356.5 L693.5,1379 L668.5,1379Z" fill="none" stroke="#2b2b2b" stroke-width="3.6" stroke-linejoin="round"/>
<path d="M708.2,1360.7 L720.7,1383.2 L695.7,1383.2Z" fill="none" stroke="#2b2b2b" stroke-width="3.6" stroke-linejoin="round"/>
<path d="M737.6,1373.3 L750.1,1395.8 L725.1,1395.8Z" fill="none" stroke="#2b2b2b" stroke-width="3.6" stroke-linejoin="round"/>
<path d="M842.6,1383.8 L855.1,1406.3 L830.1,1406.3Z" fill="none" stroke="#2b2b2b" stroke-width="3.6" stroke-linejoin="round"/>
<path d="M865.6,1381.7 L878.1,1404.2 L853.1,1404.2Z" fill="none" stroke="#2b2b2b" stroke-width="3.6" stroke-linejoin="round"/>
<path d="M890.8,1392.2 L903.3,1414.7 L878.3,1414.7Z" fill="none" stroke="#2b2b2b" stroke-width="3.6" stroke-linejoin="round"/>
<path d="M911.8,1390.1 L924.3,1412.6 L899.3,1412.6Z" fill="none" stroke="#2b2b2b" stroke-width="3.6" stroke-linejoin="round"/>
<path d="M937,1373.3 L949.5,1395.8 L924.5,1395.8Z" fill="none" stroke="#2b2b2b" stroke-width="3.6" stroke-linejoin="round"/>
<path d="M960.1,1373.3 L972.6,1395.8 L947.6,1395.8Z" fill="none" stroke="#2b2b2b" stroke-width="3.6" stroke-linejoin="round"/>
<path d="M983.2,1390.1 L995.7,1412.6 L970.7,1412.6Z" fill="none" stroke="#2b2b2b" stroke-width="3.6" stroke-linejoin="round"/>
<line x1="338.9" y1="1325.6" x2="502.6" y2="1325.6" stroke="#3c40b0" stroke-width="4" />
<line x1="584.4" y1="1373.9" x2="750.2" y2="1373.9" stroke="#3c40b0" stroke-width="4" />
<line x1="832" y1="1396.2" x2="995.8" y2="1396.2" stroke="#3c40b0" stroke-width="4" />
<rect x="410.8" y="1573.2" width="23" height="23" rx="3" fill="none" stroke="#2b2b2b" stroke-width="3.8"/>
<rect x="339.4" y="1608.9" width="23" height="23" rx="3" fill="none" stroke="#2b2b2b" stroke-width="3.8"/>
<rect x="369.8" y="1610.5" width="23" height="23" rx="3" fill="none" stroke="#2b2b2b" stroke-width="3.8"/>
<rect x="397.1" y="1606.5" width="23" height="23" rx="3" fill="none" stroke="#2b2b2b" stroke-width="3.8"/>
<rect x="423.4" y="1605.5" width="23" height="23" rx="3" fill="none" stroke="#2b2b2b" stroke-width="3.8"/>
<rect x="450.6" y="1602.9" width="23" height="23" rx="3" fill="none" stroke="#2b2b2b" stroke-width="3.8"/>
<rect x="479" y="1610" width="23" height="23" rx="3" fill="none" stroke="#2b2b2b" stroke-width="3.8"/>
<rect x="585.2" y="1585.7" width="23" height="23" rx="3" fill="none" stroke="#2b2b2b" stroke-width="3.8"/>
<rect x="613.7" y="1581.3" width="23" height="23" rx="3" fill="none" stroke="#2b2b2b" stroke-width="3.8"/>
<rect x="641.9" y="1579.8" width="23" height="23" rx="3" fill="none" stroke="#2b2b2b" stroke-width="3.8"/>
<rect x="668.9" y="1575.4" width="23" height="23" rx="3" fill="none" stroke="#2b2b2b" stroke-width="3.8"/>
<rect x="697.7" y="1565.1" width="23" height="23" rx="3" fill="none" stroke="#2b2b2b" stroke-width="3.8"/>
<rect x="697.7" y="1598.9" width="23" height="23" rx="3" fill="none" stroke="#2b2b2b" stroke-width="3.8"/>
<rect x="726.2" y="1581.3" width="23" height="23" rx="3" fill="none" stroke="#2b2b2b" stroke-width="3.8"/>
<rect x="854" y="1554.2" width="23" height="23" rx="3" fill="none" stroke="#2b2b2b" stroke-width="3.8"/>
<rect x="878.1" y="1547.5" width="23" height="23" rx="3" fill="none" stroke="#2b2b2b" stroke-width="3.8"/>
<rect x="902.5" y="1582.7" width="23" height="23" rx="3" fill="none" stroke="#2b2b2b" stroke-width="3.8"/>
<rect x="924.5" y="1568" width="23" height="23" rx="3" fill="none" stroke="#2b2b2b" stroke-width="3.8"/>
<rect x="924.5" y="1540.1" width="23" height="23" rx="3" fill="none" stroke="#2b2b2b" stroke-width="3.8"/>
<rect x="948.6" y="1529.9" width="23" height="23" rx="3" fill="none" stroke="#2b2b2b" stroke-width="3.8"/>
<rect x="948.6" y="1556.3" width="23" height="23" rx="3" fill="none" stroke="#2b2b2b" stroke-width="3.8"/>
<line x1="339.4" y1="1618.3" x2="504.1" y2="1618.3" stroke="#ee4a50" stroke-width="4" opacity="0.95"/>
<line x1="585" y1="1592.8" x2="751" y2="1592.8" stroke="#ee4a50" stroke-width="4" opacity="0.95"/>
<line x1="830.3" y1="1565.7" x2="997.7" y2="1565.7" stroke="#f06066" stroke-width="4.5" opacity="0.95"/>
<circle cx="380.1" cy="1872.2" r="11.5" fill="none" stroke="#2b2b2b" stroke-width="3.6"/>
<circle cx="407.9" cy="1860.2" r="11.5" fill="none" stroke="#2b2b2b" stroke-width="3.6"/>
<circle cx="421.2" cy="1830" r="11.5" fill="none" stroke="#2b2b2b" stroke-width="3.6"/>
<circle cx="406.7" cy="1896.4" r="11.5" fill="none" stroke="#2b2b2b" stroke-width="3.6"/>
<circle cx="434.4" cy="1901.2" r="11.5" fill="none" stroke="#2b2b2b" stroke-width="3.6"/>
<circle cx="463.4" cy="1898.8" r="11.5" fill="none" stroke="#2b2b2b" stroke-width="3.6"/>
<circle cx="380.1" cy="1914.5" r="11.5" fill="none" stroke="#2b2b2b" stroke-width="3.6"/>
<circle cx="595.3" cy="1979.3" r="11.5" fill="none" stroke="#2b2b2b" stroke-width="3.6"/>
<circle cx="624.6" cy="1966.1" r="11.5" fill="none" stroke="#2b2b2b" stroke-width="3.6"/>
<circle cx="652.5" cy="1972" r="11.5" fill="none" stroke="#2b2b2b" stroke-width="3.6"/>
<circle cx="680.4" cy="1967.6" r="11.5" fill="none" stroke="#2b2b2b" stroke-width="3.6"/>
<circle cx="708.4" cy="1957.3" r="11.5" fill="none" stroke="#2b2b2b" stroke-width="3.6"/>
<circle cx="708.4" cy="1985.2" r="11.5" fill="none" stroke="#2b2b2b" stroke-width="3.6"/>
<circle cx="736.3" cy="1972" r="11.5" fill="none" stroke="#2b2b2b" stroke-width="3.6"/>
<circle cx="865.5" cy="1970.5" r="11.5" fill="none" stroke="#2b2b2b" stroke-width="3.6"/>
<circle cx="889" cy="1960.2" r="11.5" fill="none" stroke="#2b2b2b" stroke-width="3.6"/>
<circle cx="889" cy="1999.9" r="11.5" fill="none" stroke="#2b2b2b" stroke-width="3.6"/>
<circle cx="912.5" cy="1974.9" r="11.5" fill="none" stroke="#2b2b2b" stroke-width="3.6"/>
<circle cx="936" cy="1979.3" r="11.5" fill="none" stroke="#2b2b2b" stroke-width="3.6"/>
<circle cx="959.5" cy="1969" r="11.5" fill="none" stroke="#2b2b2b" stroke-width="3.6"/>
<circle cx="984.5" cy="1963.2" r="11.5" fill="none" stroke="#2b2b2b" stroke-width="3.6"/>
<line x1="339.1" y1="1881.4" x2="504.4" y2="1881.4" stroke="#2b2b2b" stroke-width="4" />
<line x1="585" y1="1970.5" x2="751" y2="1970.5" stroke="#2b2b2b" stroke-width="3.6" />
<line x1="830.3" y1="1974.9" x2="994.8" y2="1974.9" stroke="#2b2b2b" stroke-width="3.6" />
<text x="0" y="0" font-size="52" fill="#333333" stroke="#333333" stroke-width="0.6" text-anchor="start" textLength="168.9" lengthAdjust="spacingAndGlyphs" transform="translate(263.9,2105.8) rotate(-14.26)">Pristine</text>
<text x="0" y="0" font-size="52" fill="#333333" stroke="#333333" stroke-width="0.6" text-anchor="start" textLength="339.4" lengthAdjust="spacingAndGlyphs" transform="translate(360.9,2143.5) rotate(-14.82)">Functionalized</text>
<text x="0" y="0" font-size="52" fill="#333333" stroke="#333333" stroke-width="0.6" text-anchor="start" textLength="430" lengthAdjust="spacingAndGlyphs" transform="translate(525.2,2166.1) rotate(-14.93)">After SA detection</text>
<text x="465.2" y="2261.2" font-size="52" fill="#333333" stroke="#333333" stroke-width="0.4" text-anchor="start" font-weight="bold" textLength="396" lengthAdjust="spacingAndGlyphs" >Sample Nature</text>
<text x="0" y="0" font-size="53" fill="#333333" stroke="#333333" stroke-width="0.4" text-anchor="start" font-weight="bold" textLength="493" lengthAdjust="spacingAndGlyphs" transform="translate(126.8,1846) rotate(-90)">Raman Shift (cm<tspan font-size="32" dy="-25">-1</tspan><tspan dy="25">)</tspan></text>
</g>
<g id="panel-d">
<text x="1176" y="1168" font-size="158" fill="#2a2a2a" text-anchor="start" font-weight="bold" >d</text>
<line x1="1328.7" y1="1203" x2="2154.8" y2="1203" stroke="#2b2b2b" stroke-width="4.4" />
<line x1="1328.7" y1="2021.5" x2="2154.8" y2="2021.5" stroke="#2b2b2b" stroke-width="4.4" />
<line x1="2152.5" y1="1203" x2="2152.5" y2="2021.5" stroke="#2b2b2b" stroke-width="4.4" />
<line x1="1331" y1="1203" x2="1331" y2="1538.8" stroke="#2b2b2b" stroke-width="4.4" />
<line x1="1331" y1="1601.8" x2="1331" y2="2021.5" stroke="#2b2b2b" stroke-width="4.4" />
<line x1="1314.3" y1="1538.8" x2="1354.2" y2="1538.8" stroke="#2b2b2b" stroke-width="4.4" />
<line x1="1312.2" y1="1601.8" x2="1354.2" y2="1601.8" stroke="#2b2b2b" stroke-width="4.4" />
<line x1="1331" y1="1300.3" x2="1354.2" y2="1300.3" stroke="#2b2b2b" stroke-width="4.2" />
<line x1="1331" y1="1422" x2="1354.2" y2="1422" stroke="#2b2b2b" stroke-width="4.2" />
<line x1="1331" y1="1664.7" x2="1354.2" y2="1664.7" stroke="#2b2b2b" stroke-width="4.2" />
<line x1="1331" y1="1785.4" x2="1354.2" y2="1785.4" stroke="#2b2b2b" stroke-width="4.2" />
<line x1="1331" y1="1907" x2="1354.2" y2="1907" stroke="#2b2b2b" stroke-width="4.2" />
<line x1="1331" y1="1229" x2="1345" y2="1229" stroke="#2b2b2b" stroke-width="4.2" />
<line x1="1331" y1="1254.8" x2="1345" y2="1254.8" stroke="#2b2b2b" stroke-width="4.2" />
<line x1="1331" y1="1279.3" x2="1345" y2="1279.3" stroke="#2b2b2b" stroke-width="4.2" />
<line x1="1331" y1="1325.5" x2="1345" y2="1325.5" stroke="#2b2b2b" stroke-width="4.2" />
<line x1="1331" y1="1350.7" x2="1345" y2="1350.7" stroke="#2b2b2b" stroke-width="4.2" />
<line x1="1331" y1="1372" x2="1345" y2="1372" stroke="#2b2b2b" stroke-width="4.2" />
<line x1="1331" y1="1396.8" x2="1345" y2="1396.8" stroke="#2b2b2b" stroke-width="4.2" />
<line x1="1331" y1="1445.4" x2="1345" y2="1445.4" stroke="#2b2b2b" stroke-width="4.2" />
<line x1="1331" y1="1468.7" x2="1345" y2="1468.7" stroke="#2b2b2b" stroke-width="4.2" />
<line x1="1331" y1="1492" x2="1345" y2="1492" stroke="#2b2b2b" stroke-width="4.2" />
<line x1="1331" y1="1515.5" x2="1345" y2="1515.5" stroke="#2b2b2b" stroke-width="4.2" />
<line x1="1331" y1="1614.4" x2="1345" y2="1614.4" stroke="#2b2b2b" stroke-width="4.2" />
<line x1="1331" y1="1639.6" x2="1345" y2="1639.6" stroke="#2b2b2b" stroke-width="4.2" />
<line x1="1331" y1="1685.7" x2="1345" y2="1685.7" stroke="#2b2b2b" stroke-width="4.2" />
<line x1="1331" y1="1709.9" x2="1345" y2="1709.9" stroke="#2b2b2b" stroke-width="4.2" />
<line x1="1331" y1="1735" x2="1345" y2="1735" stroke="#2b2b2b" stroke-width="4.2" />
<line x1="1331" y1="1760.2" x2="1345" y2="1760.2" stroke="#2b2b2b" stroke-width="4.2" />
<line x1="1331" y1="1806.4" x2="1345" y2="1806.4" stroke="#2b2b2b" stroke-width="4.2" />
<line x1="1331" y1="1831.6" x2="1345" y2="1831.6" stroke="#2b2b2b" stroke-width="4.2" />
<line x1="1331" y1="1856.8" x2="1345" y2="1856.8" stroke="#2b2b2b" stroke-width="4.2" />
<line x1="1331" y1="1882" x2="1345" y2="1882" stroke="#2b2b2b" stroke-width="4.2" />
<line x1="1331" y1="1927" x2="1345" y2="1927" stroke="#2b2b2b" stroke-width="4.2" />
<line x1="1331" y1="1951.1" x2="1345" y2="1951.1" stroke="#2b2b2b" stroke-width="4.2" />
<line x1="1331" y1="1976.3" x2="1345" y2="1976.3" stroke="#2b2b2b" stroke-width="4.2" />
<line x1="1331" y1="2001.5" x2="1345" y2="2001.5" stroke="#2b2b2b" stroke-width="4.2" />
<line x1="1497.4" y1="2021.5" x2="1497.4" y2="2010.5" stroke="#2b2b2b" stroke-width="3.6" />
<line x1="1744.6" y1="2021.5" x2="1744.6" y2="2010.5" stroke="#2b2b2b" stroke-width="3.6" />
<line x1="1989" y1="2021.5" x2="1989" y2="2010.5" stroke="#2b2b2b" stroke-width="3.6" />
<text x="1320" y="1320.2" font-size="56" fill="#383838" stroke="#383838" stroke-width="0.2" text-anchor="end" textLength="73" lengthAdjust="spacingAndGlyphs" >9.0</text>
<text x="1320" y="1437.8" font-size="56" fill="#383838" stroke="#383838" stroke-width="0.2" text-anchor="end" textLength="73" lengthAdjust="spacingAndGlyphs" >6.0</text>
<text x="1320" y="1557.7" font-size="56" fill="#383838" stroke="#383838" stroke-width="0.2" text-anchor="end" textLength="73" lengthAdjust="spacingAndGlyphs" >3.0</text>
<text x="1320" y="1679.4" font-size="56" fill="#383838" stroke="#383838" stroke-width="0.2" text-anchor="end" textLength="73" lengthAdjust="spacingAndGlyphs" >0.6</text>
<text x="1320" y="1800.1" font-size="56" fill="#383838" stroke="#383838" stroke-width="0.2" text-anchor="end" textLength="73" lengthAdjust="spacingAndGlyphs" >0.4</text>
<text x="1320" y="1921.7" font-size="56" fill="#383838" stroke="#383838" stroke-width="0.2" text-anchor="end" textLength="73" lengthAdjust="spacingAndGlyphs" >0.2</text>
<text x="1320" y="2040.3" font-size="56" fill="#383838" stroke="#383838" stroke-width="0.2" text-anchor="end" textLength="73" lengthAdjust="spacingAndGlyphs" >0.0</text>
<circle cx="1389.3" cy="1241.5" r="13.5" fill="none" stroke="#3a3a3a" stroke-width="4.4"/>
<path d="M1379.6,1231.8 L1399,1251.2 M1399,1231.8 L1379.6,1251.2" stroke="#3a3a3a" stroke-width="3.9600000000000004"/>
<text x="1483.1" y="1256.2" font-size="43" fill="#333333" stroke="#333333" stroke-width="0.6" text-anchor="start" textLength="225" lengthAdjust="spacingAndGlyphs" >FWHM-A1g</text>
<text x="0" y="0" font-size="45" fill="#333333" stroke="#333333" stroke-width="0.6" text-anchor="start" textLength="152" lengthAdjust="spacingAndGlyphs" transform="translate(2208.3,1529.3) rotate(-90)">B<tspan font-size="31" dy="10">2g</tspan><tspan dy="-10">/A</tspan><tspan font-size="31" dy="10">1g</tspan></text>
<circle cx="2197.4" cy="1623.9" r="12" fill="#f4f4f4" stroke="#4a4a4a" stroke-width="4.5"/>
<circle cx="2197.4" cy="1623.9" r="4.6" fill="#1e1e1e"/>
<text x="0" y="0" font-size="45" fill="#333333" stroke="#333333" stroke-width="0.6" text-anchor="start" textLength="234" lengthAdjust="spacingAndGlyphs" transform="translate(2209.9,1919.2) rotate(-90)">2LA(M)/A<tspan font-size="31" dy="10">1g</tspan></text>
<circle cx="2197.9" cy="2013.8" r="12.5" fill="none" stroke="#2b2b2b" stroke-width="3.8"/>
<circle cx="1427.2" cy="1478.3" r="12" fill="none" stroke="#2b2b2b" stroke-width="4.6"/>
<path d="M1418.6,1469.7 L1435.8,1486.9 M1435.8,1469.7 L1418.6,1486.9" stroke="#2b2b2b" stroke-width="4.14"/>
<circle cx="1450.3" cy="1489.8" r="12" fill="none" stroke="#2b2b2b" stroke-width="4.6"/>
<path d="M1441.7,1481.2 L1458.9,1498.4 M1458.9,1481.2 L1441.7,1498.4" stroke="#2b2b2b" stroke-width="4.14"/>
<circle cx="1473.4" cy="1486.7" r="12" fill="none" stroke="#2b2b2b" stroke-width="4.6"/>
<path d="M1464.8,1478.1 L1482,1495.3 M1482,1478.1 L1464.8,1495.3" stroke="#2b2b2b" stroke-width="4.14"/>
<circle cx="1496.5" cy="1474.1" r="12" fill="none" stroke="#2b2b2b" stroke-width="4.6"/>
<path d="M1487.9,1465.5 L1505.1,1482.7 M1505.1,1465.5 L1487.9,1482.7" stroke="#2b2b2b" stroke-width="4.14"/>
<circle cx="1519.6" cy="1479.3" r="12" fill="none" stroke="#2b2b2b" stroke-width="4.6"/>
<path d="M1511,1470.7 L1528.2,1487.9 M1528.2,1470.7 L1511,1487.9" stroke="#2b2b2b" stroke-width="4.14"/>
<circle cx="1542.6" cy="1481.4" r="12" fill="none" stroke="#2b2b2b" stroke-width="4.6"/>
<path d="M1534,1472.8 L1551.2,1490 M1551.2,1472.8 L1534,1490" stroke="#2b2b2b" stroke-width="4.14"/>
<circle cx="1566.8" cy="1483.5" r="12" fill="none" stroke="#2b2b2b" stroke-width="4.6"/>
<path d="M1558.2,1474.9 L1575.4,1492.1 M1575.4,1474.9 L1558.2,1492.1" stroke="#2b2b2b" stroke-width="4.14"/>
<circle cx="1672.7" cy="1325.6" r="12" fill="none" stroke="#2b2b2b" stroke-width="4.6"/>
<path d="M1664.1,1317 L1681.3,1334.2 M1681.3,1317 L1664.1,1334.2" stroke="#2b2b2b" stroke-width="4.14"/>
<circle cx="1708.9" cy="1322.9" r="12" fill="none" stroke="#2b2b2b" stroke-width="4.6"/>
<path d="M1700.3,1314.3 L1717.5,1331.5 M1717.5,1314.3 L1700.3,1331.5" stroke="#2b2b2b" stroke-width="4.14"/>
<circle cx="1743.7" cy="1326.9" r="12" fill="none" stroke="#2b2b2b" stroke-width="4.6"/>
<path d="M1735.1,1318.3 L1752.3,1335.5 M1752.3,1318.3 L1735.1,1335.5" stroke="#2b2b2b" stroke-width="4.14"/>
<circle cx="1778.4" cy="1329.6" r="12" fill="none" stroke="#2b2b2b" stroke-width="4.6"/>
<path d="M1769.8,1321 L1787,1338.2 M1787,1321 L1769.8,1338.2" stroke="#2b2b2b" stroke-width="4.14"/>
<circle cx="1813.2" cy="1312.2" r="12" fill="none" stroke="#2b2b2b" stroke-width="4.6"/>
<path d="M1804.6,1303.6 L1821.8,1320.8 M1821.8,1303.6 L1804.6,1320.8" stroke="#2b2b2b" stroke-width="4.14"/>
<circle cx="1708.9" cy="1352.3" r="12" fill="none" stroke="#2b2b2b" stroke-width="4.6"/>
<path d="M1700.3,1343.7 L1717.5,1360.9 M1717.5,1343.7 L1700.3,1360.9" stroke="#2b2b2b" stroke-width="4.14"/>
<circle cx="1743.7" cy="1355" r="12" fill="none" stroke="#2b2b2b" stroke-width="4.6"/>
<path d="M1735.1,1346.4 L1752.3,1363.6 M1752.3,1346.4 L1735.1,1363.6" stroke="#2b2b2b" stroke-width="4.14"/>
<circle cx="1917.6" cy="1324.2" r="12" fill="none" stroke="#2b2b2b" stroke-width="4.6"/>
<path d="M1909,1315.6 L1926.2,1332.8 M1926.2,1315.6 L1909,1332.8" stroke="#2b2b2b" stroke-width="4.14"/>
<circle cx="1941.7" cy="1326.9" r="12" fill="none" stroke="#2b2b2b" stroke-width="4.6"/>
<path d="M1933.1,1318.3 L1950.3,1335.5 M1950.3,1318.3 L1933.1,1335.5" stroke="#2b2b2b" stroke-width="4.14"/>
<circle cx="1964.4" cy="1336.3" r="12" fill="none" stroke="#2b2b2b" stroke-width="4.6"/>
<path d="M1955.8,1327.7 L1973,1344.9 M1973,1327.7 L1955.8,1344.9" stroke="#2b2b2b" stroke-width="4.14"/>
<circle cx="1988.5" cy="1330.9" r="12" fill="none" stroke="#2b2b2b" stroke-width="4.6"/>
<path d="M1979.9,1322.3 L1997.1,1339.5 M1997.1,1322.3 L1979.9,1339.5" stroke="#2b2b2b" stroke-width="4.14"/>
<circle cx="2011.3" cy="1328.2" r="12" fill="none" stroke="#2b2b2b" stroke-width="4.6"/>
<path d="M2002.7,1319.6 L2019.9,1336.8 M2019.9,1319.6 L2002.7,1336.8" stroke="#2b2b2b" stroke-width="4.14"/>
<circle cx="2034" cy="1317.5" r="12" fill="none" stroke="#2b2b2b" stroke-width="4.6"/>
<path d="M2025.4,1308.9 L2042.6,1326.1 M2042.6,1308.9 L2025.4,1326.1" stroke="#2b2b2b" stroke-width="4.14"/>
<circle cx="2058.1" cy="1314.9" r="12" fill="none" stroke="#2b2b2b" stroke-width="4.6"/>
<path d="M2049.5,1306.3 L2066.7,1323.5 M2066.7,1306.3 L2049.5,1323.5" stroke="#2b2b2b" stroke-width="4.14"/>
<line x1="1412" y1="1482.5" x2="1580" y2="1482.5" stroke="#3c40c0" stroke-width="5" opacity="0.85"/>
<line x1="1660.7" y1="1332.8" x2="1826.6" y2="1332.8" stroke="#3c40c0" stroke-width="5" opacity="0.85"/>
<line x1="1906.9" y1="1324.2" x2="2071.5" y2="1324.2" stroke="#3c40c0" stroke-width="5" opacity="0.85"/>
<circle cx="1425.5" cy="1869.3" r="11.5" fill="none" stroke="#2b2b2b" stroke-width="3.8"/>
<circle cx="1450.7" cy="1863" r="11.5" fill="none" stroke="#2b2b2b" stroke-width="3.8"/>
<circle cx="1473.8" cy="1861.9" r="11.5" fill="none" stroke="#2b2b2b" stroke-width="3.8"/>
<circle cx="1497.9" cy="1849.3" r="11.5" fill="none" stroke="#2b2b2b" stroke-width="3.8"/>
<circle cx="1473.8" cy="1892.3" r="11.5" fill="none" stroke="#2b2b2b" stroke-width="3.8"/>
<circle cx="1543.1" cy="1875.6" r="11.5" fill="none" stroke="#2b2b2b" stroke-width="3.8"/>
<circle cx="1566.1" cy="1860.9" r="11.5" fill="none" stroke="#2b2b2b" stroke-width="3.8"/>
<circle cx="1672.7" cy="1651.4" r="11.5" fill="none" stroke="#2b2b2b" stroke-width="3.8"/>
<circle cx="1708.2" cy="1637.7" r="11.5" fill="none" stroke="#2b2b2b" stroke-width="3.8"/>
<circle cx="1708.2" cy="1669.1" r="11.5" fill="none" stroke="#2b2b2b" stroke-width="3.8"/>
<circle cx="1743.7" cy="1655.5" r="11.5" fill="none" stroke="#2b2b2b" stroke-width="3.8"/>
<circle cx="1743.7" cy="1688.2" r="11.5" fill="none" stroke="#2b2b2b" stroke-width="3.8"/>
<circle cx="1777.8" cy="1669.1" r="11.5" fill="none" stroke="#2b2b2b" stroke-width="3.8"/>
<circle cx="1813.3" cy="1662.3" r="11.5" fill="none" stroke="#2b2b2b" stroke-width="3.8"/>
<circle cx="1918.3" cy="1650" r="11.5" fill="none" stroke="#2b2b2b" stroke-width="3.8"/>
<circle cx="1941.5" cy="1656.8" r="11.5" fill="none" stroke="#2b2b2b" stroke-width="3.8"/>
<circle cx="1964.7" cy="1656.8" r="11.5" fill="none" stroke="#2b2b2b" stroke-width="3.8"/>
<circle cx="1987.9" cy="1643.2" r="11.5" fill="none" stroke="#2b2b2b" stroke-width="3.8"/>
<circle cx="1987.9" cy="1675.9" r="11.5" fill="none" stroke="#2b2b2b" stroke-width="3.8"/>
<circle cx="2011.1" cy="1670.5" r="11.5" fill="none" stroke="#2b2b2b" stroke-width="3.8"/>
<circle cx="2034.3" cy="1650" r="11.5" fill="none" stroke="#2b2b2b" stroke-width="3.8"/>
<line x1="1415.8" y1="1868.5" x2="1578.7" y2="1868.5" stroke="#3a3a3a" stroke-width="3.6" />
<line x1="1659.1" y1="1661" x2="1828.3" y2="1661" stroke="#3a3a3a" stroke-width="3.6" />
<line x1="1907.4" y1="1657.7" x2="2071.1" y2="1657.7" stroke="#3a3a3a" stroke-width="3.6" />
<circle cx="1497.9" cy="1887.1" r="11.5" fill="#f4f4f4" stroke="#4a4a4a" stroke-width="4.5"/>
<circle cx="1497.9" cy="1887.1" r="4.6" fill="#1e1e1e"/>
<circle cx="1450.7" cy="1928" r="11.5" fill="#f4f4f4" stroke="#4a4a4a" stroke-width="4.5"/>
<circle cx="1450.7" cy="1928" r="4.6" fill="#1e1e1e"/>
<circle cx="1473.8" cy="1944.8" r="11.5" fill="#f4f4f4" stroke="#4a4a4a" stroke-width="4.5"/>
<circle cx="1473.8" cy="1944.8" r="4.6" fill="#1e1e1e"/>
<circle cx="1497.9" cy="1950" r="11.5" fill="#f4f4f4" stroke="#4a4a4a" stroke-width="4.5"/>
<circle cx="1497.9" cy="1950" r="4.6" fill="#1e1e1e"/>
<circle cx="1520" cy="1951.1" r="11.5" fill="#f4f4f4" stroke="#4a4a4a" stroke-width="4.5"/>
<circle cx="1520" cy="1951.1" r="4.6" fill="#1e1e1e"/>
<circle cx="1544.1" cy="1938.5" r="11.5" fill="#f4f4f4" stroke="#4a4a4a" stroke-width="4.5"/>
<circle cx="1544.1" cy="1938.5" r="4.6" fill="#1e1e1e"/>
<circle cx="1473.8" cy="1976.3" r="11.5" fill="#f4f4f4" stroke="#4a4a4a" stroke-width="4.5"/>
<circle cx="1473.8" cy="1976.3" r="4.6" fill="#1e1e1e"/>
<circle cx="1709" cy="1850.5" r="11.5" fill="#f4f4f4" stroke="#4a4a4a" stroke-width="4.5"/>
<circle cx="1709" cy="1850.5" r="4.6" fill="#1e1e1e"/>
<circle cx="1743.4" cy="1844.1" r="11.5" fill="#f4f4f4" stroke="#4a4a4a" stroke-width="4.5"/>
<circle cx="1743.4" cy="1844.1" r="4.6" fill="#1e1e1e"/>
<circle cx="1778.1" cy="1838.2" r="11.5" fill="#f4f4f4" stroke="#4a4a4a" stroke-width="4.5"/>
<circle cx="1778.1" cy="1838.2" r="4.6" fill="#1e1e1e"/>
<circle cx="1778.1" cy="1869" r="11.5" fill="#f4f4f4" stroke="#4a4a4a" stroke-width="4.5"/>
<circle cx="1778.1" cy="1869" r="4.6" fill="#1e1e1e"/>
<circle cx="1743.4" cy="1880.8" r="11.5" fill="#f4f4f4" stroke="#4a4a4a" stroke-width="4.5"/>
<circle cx="1743.4" cy="1880.8" r="4.6" fill="#1e1e1e"/>
<circle cx="1709" cy="1905.2" r="11.5" fill="#f4f4f4" stroke="#4a4a4a" stroke-width="4.5"/>
<circle cx="1709" cy="1905.2" r="4.6" fill="#1e1e1e"/>
<circle cx="1778.1" cy="1899.9" r="11.5" fill="#f4f4f4" stroke="#4a4a4a" stroke-width="4.5"/>
<circle cx="1778.1" cy="1899.9" r="4.6" fill="#1e1e1e"/>
<circle cx="1919.1" cy="1851.4" r="11.5" fill="#f4f4f4" stroke="#4a4a4a" stroke-width="4.5"/>
<circle cx="1919.1" cy="1851.4" r="4.6" fill="#1e1e1e"/>
<circle cx="1941.7" cy="1826.4" r="11.5" fill="#f4f4f4" stroke="#4a4a4a" stroke-width="4.5"/>
<circle cx="1941.7" cy="1826.4" r="4.6" fill="#1e1e1e"/>
<circle cx="1964.6" cy="1844.7" r="11.5" fill="#f4f4f4" stroke="#4a4a4a" stroke-width="4.5"/>
<circle cx="1964.6" cy="1844.7" r="4.6" fill="#1e1e1e"/>
<circle cx="1988.1" cy="1832.3" r="11.5" fill="#f4f4f4" stroke="#4a4a4a" stroke-width="4.5"/>
<circle cx="1988.1" cy="1832.3" r="4.6" fill="#1e1e1e"/>
<circle cx="2011.6" cy="1857.3" r="11.5" fill="#f4f4f4" stroke="#4a4a4a" stroke-width="4.5"/>
<circle cx="2011.6" cy="1857.3" r="4.6" fill="#1e1e1e"/>
<circle cx="2035.1" cy="1844.1" r="11.5" fill="#f4f4f4" stroke="#4a4a4a" stroke-width="4.5"/>
<circle cx="2035.1" cy="1844.1" r="4.6" fill="#1e1e1e"/>
<circle cx="2058.6" cy="1857.3" r="11.5" fill="#f4f4f4" stroke="#4a4a4a" stroke-width="4.5"/>
<circle cx="2058.6" cy="1857.3" r="4.6" fill="#1e1e1e"/>
<line x1="1413" y1="1945.2" x2="1580" y2="1945.2" stroke="#ee3a44" stroke-width="4.5" opacity="0.9"/>
<line x1="1660.6" y1="1869" x2="1826.5" y2="1869" stroke="#ee3a44" stroke-width="4.5" opacity="0.9"/>
<line x1="1907.3" y1="1844.7" x2="2070.4" y2="1844.7" stroke="#ee3a44" stroke-width="4.5" opacity="0.9"/>
<text x="0" y="0" font-size="52" fill="#333333" stroke="#333333" stroke-width="0.6" text-anchor="start" textLength="168.9" lengthAdjust="spacingAndGlyphs" transform="translate(1336.9,2124.3) rotate(-14.26)">Pristine</text>
<text x="0" y="0" font-size="52" fill="#333333" stroke="#333333" stroke-width="0.6" text-anchor="start" textLength="339.4" lengthAdjust="spacingAndGlyphs" transform="translate(1433.9,2162) rotate(-14.82)">Functionalized</text>
<text x="0" y="0" font-size="52" fill="#333333" stroke="#333333" stroke-width="0.6" text-anchor="start" textLength="430" lengthAdjust="spacingAndGlyphs" transform="translate(1598.2,2184.6) rotate(-14.93)">After SA detection</text>
<text x="1541.2" y="2261.2" font-size="52" fill="#333333" stroke="#333333" stroke-width="0.4" text-anchor="start" font-weight="bold" textLength="396" lengthAdjust="spacingAndGlyphs" >Sample Nature</text>
<text x="0" y="0" font-size="53" fill="#333333" stroke="#333333" stroke-width="0.4" text-anchor="start" font-weight="bold" textLength="491" lengthAdjust="spacingAndGlyphs" transform="translate(1213,1861.5) rotate(-90)">Raman Shift (cm<tspan font-size="32" dy="-25">-1</tspan><tspan dy="25">)</tspan></text>
</g>
</svg>
</body></html>
